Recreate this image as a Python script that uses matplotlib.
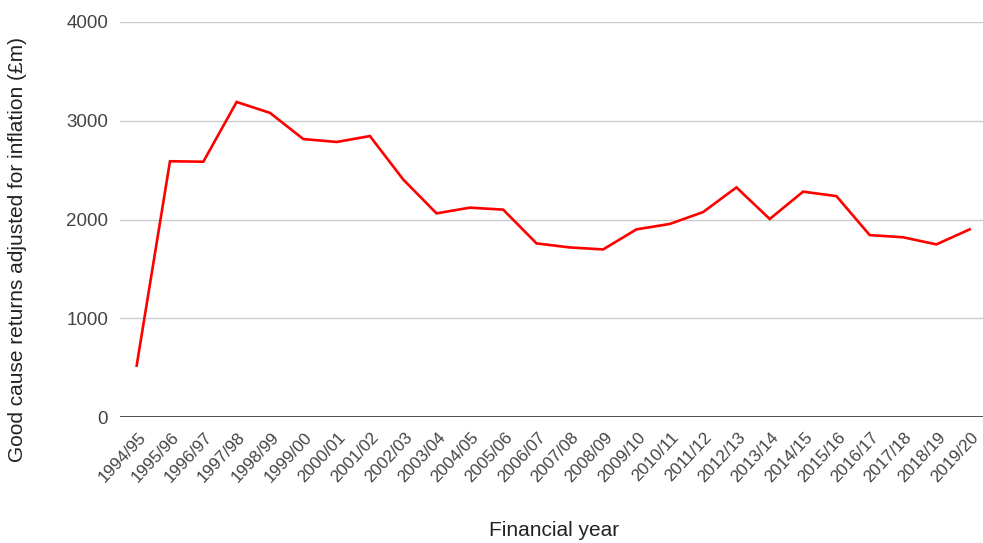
import numpy as np
import matplotlib.pyplot as plt
import matplotlib.transforms as mtransforms

plt.rcParams['font.family'] = ['Liberation Sans', 'DejaVu Sans']

years = ['1994/95', '1995/96', '1996/97', '1997/98', '1998/99', '1999/00',
         '2000/01', '2001/02', '2002/03', '2003/04', '2004/05', '2005/06',
         '2006/07', '2007/08', '2008/09', '2009/10', '2010/11', '2011/12',
         '2012/13', '2013/14', '2014/15', '2015/16', '2016/17', '2017/18',
         '2018/19', '2019/20']
returns = [520, 2590, 2585, 3190, 3080, 2815, 2785, 2845, 2405, 2062,
           2120, 2100, 1758, 1717, 1697, 1900, 1955, 2075, 2325, 2005,
           2282, 2237, 1842, 1820, 1748, 1900]
yticks = [0, 1000, 2000, 3000, 4000]

fig = plt.figure(figsize=(9.83, 5.43), dpi=100)
ax = fig.add_axes([120 / 983, 1 - 417 / 543, 863 / 983, 395 / 543])

x = np.arange(len(years))
ax.plot(x, returns, color='#ff0000', lw=1.9, solid_joinstyle='miter', zorder=3)

ax.set_xlim(-0.5, len(years) - 1 + 0.4)
ax.set_ylim(0, 4000)
ax.set_yticks(yticks)
ax.set_yticklabels([str(v) for v in yticks])
ax.grid(axis='y', color='#cccccc', lw=1)
ax.axhline(0, color='#333333', lw=1.2, zorder=2)
for s in ax.spines.values():
    s.set_visible(False)
ax.tick_params(length=0, colors='#444444')
ax.tick_params(axis='y', pad=8.5, labelsize=13.5)
ax.tick_params(axis='x', pad=9, labelsize=12.3)

ax.set_xticks(x)
ax.set_xticklabels(years, rotation=47, ha='right', rotation_mode='anchor')
shift = mtransforms.ScaledTranslation(1 / 100, 0, fig.dpi_scale_trans)
for lab in ax.get_xticklabels():
    lab.set_transform(lab.get_transform() + shift)

fig.text(18 / 983, 1 - 250 / 543, 'Good cause returns adjusted for inflation (£m)',
         rotation=90, ha='center', va='center', fontsize=15, color='#222222')
fig.text(554 / 983, 1 - 531 / 543, 'Financial year', ha='center', va='center',
         fontsize=15, color='#222222')

fig.savefig('out.png', dpi=100)
